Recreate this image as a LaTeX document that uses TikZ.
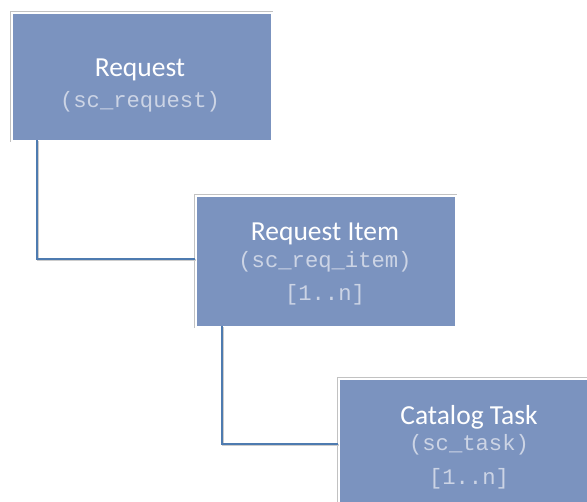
\documentclass[tikz,border=0pt]{standalone}
\usepackage{fontspec}
\setmainfont{Carlito}
\newfontfamily\codefont{Liberation Mono}
\definecolor{boxblue}{HTML}{7B93BF}
\definecolor{codegray}{HTML}{CCD4E5}
\definecolor{linkblue}{HTML}{4E7BB0}
\tikzset{
  entity/.style={
    preaction={draw=black!24, line width=3pt},
    fill=boxblue, draw=white, line width=1.6pt,
    minimum width=260pt, minimum height=130pt, inner sep=0pt, anchor=north west},
  title/.style={anchor=base, text=white, font=\fontsize{27.5}{32}\selectfont, inner sep=0pt},
  code/.style={anchor=base, text=codegray, font=\codefont\fontsize{22.2}{26}\selectfont, inner sep=0pt},
  link/.style={draw=linkblue, line width=2.2pt,
    preaction={draw=black!20, line width=2pt, transform canvas={shift={(1.2pt,-1.2pt)}}}}
}
\begin{document}
\begin{tikzpicture}[x=1pt, y=-1pt]
  \useasboundingbox (0,0) rectangle (587,502);
  \clip (0,0) rectangle (587,502);

  % entity boxes
  \node[entity, minimum height=128pt] (req) at (11,12) {};
  \node[entity, minimum height=131pt] (item) at (195,195) {};
  \node[entity] (task) at (338,378) {};

  % labels
  \node[title] (reqT) at (140,77) {Request};
  \node[code]  (reqC) at (140,108) {(sc\_request)};

  \node[title] (itemT) at (325,241) {Request Item};
  \node[code]  (itemC) at (325,268) {(sc\_req\_item)};
  \node[code]  (itemN) at (325,301) {[1..n]};

  \node[title] (taskT) at (469,425) {Catalog Task};
  \node[code]  (taskC) at (469,451) {(sc\_task)};
  \node[code]  (taskN) at (469,485) {[1..n]};

  % parent-child connectors
  \coordinate (r1) at (37,140);
  \coordinate (i1) at (222,326);
  \path[link] (r1) |- (item.west |- 0,259);
  \path[link] (i1) |- (task.west |- 0,444);
\end{tikzpicture}
\end{document}
